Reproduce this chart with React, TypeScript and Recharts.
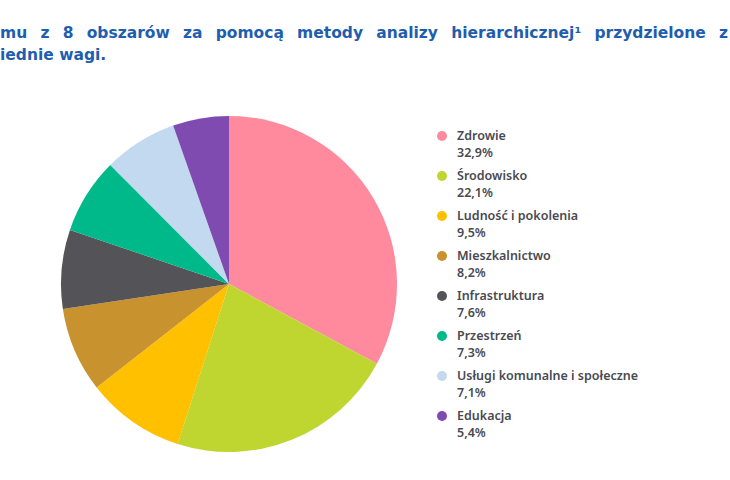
import React from 'react';
import { PieChart, Pie, Cell } from 'recharts';

const categories = [
  'Zdrowie',
  'Środowisko',
  'Ludność i pokolenia',
  'Mieszkalnictwo',
  'Infrastruktura',
  'Przestrzeń',
  'Usługi komunalne i społeczne',
  'Edukacja',
];
const weights = [32.9, 22.1, 9.5, 8.2, 7.6, 7.3, 7.1, 5.4];
const weightLabels = ['32,9%', '22,1%', '9,5%', '8,2%', '7,6%', '7,3%', '7,1%', '5,4%'];
const colors = ['#FF8A9D', '#BFD630', '#FFC000', '#C8922F', '#545458', '#00B98A', '#C3D9F0', '#804BB0'];

const titleLine1 = 'mu z 8 obszarów za pomocą metody analizy hierarchicznej¹ przydzielone z';
const titleLine2 = 'iednie wagi.';

const data = categories.map((name, i) => ({ name, value: weights[i], label: weightLabels[i] }));

function LegendList() {
  return (
    <div style={{ fontFamily: '"Noto Sans", sans-serif', fontWeight: 600, fontSize: 12.5, color: '#4A4A52' }}>
      {data.map((d, i) => (
        <div key={d.name} style={{ position: 'relative', height: 40, paddingLeft: 20 }}>
          <span
            style={{
              position: 'absolute',
              left: 0,
              top: 4,
              width: 10,
              height: 10,
              borderRadius: '50%',
              background: colors[i],
            }}
          />
          <div style={{ lineHeight: '17px' }}>{d.name}</div>
          <div style={{ lineHeight: '17px' }}>{d.label}</div>
        </div>
      ))}
    </div>
  );
}

export default function App() {
  return (
    <div style={{ position: 'absolute', left: 0, top: 0, width: 730, height: 480, background: '#fff', overflow: 'hidden' }}>
      <div
        style={{
          position: 'absolute',
          left: 0,
          top: 22,
          width: 728,
          fontFamily: '"DejaVu Sans", sans-serif',
          fontWeight: 700,
          fontSize: 15.5,
          color: '#1F5EAE',
          lineHeight: '22px',
        }}
      >
        <div style={{ textAlign: 'justify', textAlignLast: 'justify' }}>{titleLine1}</div>
        <div>{titleLine2}</div>
      </div>
      <div style={{ position: 'absolute', left: 0, top: 0 }}>
        <PieChart width={730} height={480} margin={{ top: 0, right: 0, bottom: 0, left: 0 }}>
          <Pie
            data={data}
            dataKey="value"
            nameKey="name"
            cx={229}
            cy={284}
            outerRadius={168}
            startAngle={90}
            endAngle={-270}
            stroke="none"
            isAnimationActive={false}
          >
            {data.map((d, i) => (
              <Cell key={d.name} fill={colors[i]} />
            ))}
          </Pie>
        </PieChart>
      </div>
      <div style={{ position: 'absolute', left: 437, top: 127, width: 260 }}>
        <LegendList />
      </div>
    </div>
  );
}
